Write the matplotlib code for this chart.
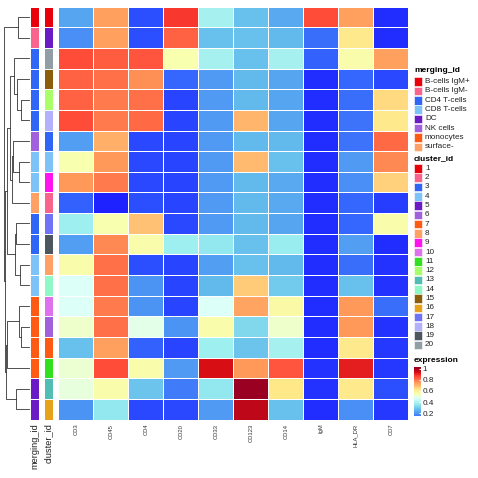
import numpy as np
import matplotlib
matplotlib.use("Agg")
import matplotlib.pyplot as plt
from matplotlib.colors import LinearSegmentedColormap, ListedColormap
from matplotlib.patches import Rectangle

plt.rcParams['font.family'] = ['Liberation Sans', 'DejaVu Sans']

# ---- data (rows top -> bottom) ----
markers = ["CD3", "CD45", "CD4", "CD20", "CD33", "CD123", "CD14", "IgM", "HLA_DR", "CD7"]

cd3    = [0.22, 0.18, 0.84, 0.81, 0.81, 0.84, 0.21, 0.54, 0.74, 0.11, 0.37, 0.21, 0.55, 0.46, 0.46, 0.51, 0.27, 0.50, 0.49, 0.19]
cd45   = [0.73, 0.73, 0.82, 0.79, 0.78, 0.78, 0.70, 0.74, 0.78, 0.00, 0.54, 0.76, 0.79, 0.79, 0.78, 0.79, 0.73, 0.84, 0.55, 0.35]
cd4    = [0.08, 0.08, 0.83, 0.75, 0.79, 0.80, 0.07, 0.07, 0.07, 0.08, 0.67, 0.55, 0.08, 0.19, 0.19, 0.48, 0.11, 0.55, 0.28, 0.07]
cd20   = [0.87, 0.81, 0.54, 0.12, 0.06, 0.06, 0.06, 0.06, 0.06, 0.06, 0.07, 0.37, 0.06, 0.06, 0.06, 0.19, 0.06, 0.20, 0.15, 0.07]
cd33   = [0.38, 0.27, 0.38, 0.20, 0.20, 0.20, 0.20, 0.20, 0.20, 0.20, 0.20, 0.35, 0.21, 0.26, 0.46, 0.55, 0.37, 0.92, 0.35, 0.20]
cd123  = [0.27, 0.27, 0.27, 0.26, 0.26, 0.69, 0.26, 0.68, 0.26, 0.26, 0.26, 0.27, 0.27, 0.66, 0.72, 0.32, 0.28, 0.74, 1.00, 0.95]
cd14   = [0.23, 0.26, 0.38, 0.22, 0.22, 0.22, 0.26, 0.27, 0.23, 0.23, 0.22, 0.36, 0.26, 0.29, 0.56, 0.51, 0.38, 0.83, 0.62, 0.27]
igm    = [0.84, 0.13, 0.11, 0.02, 0.02, 0.02, 0.02, 0.02, 0.02, 0.02, 0.02, 0.02, 0.02, 0.02, 0.02, 0.02, 0.02, 0.03, 0.03, 0.02]
hla_dr = [0.73, 0.61, 0.55, 0.12, 0.13, 0.14, 0.14, 0.20, 0.18, 0.12, 0.12, 0.21, 0.13, 0.27, 0.74, 0.74, 0.61, 0.90, 0.61, 0.18]
cd7    = [0.02, 0.02, 0.73, 0.07, 0.64, 0.61, 0.80, 0.76, 0.65, 0.05, 0.55, 0.02, 0.03, 0.03, 0.13, 0.03, 0.04, 0.04, 0.08, 0.04]

row_cluster = [1, 5, 20, 15, 12, 18, 3, 4, 9, 2, 17, 19, 8, 14, 10, 6, 7, 11, 13, 16]
row_merging = ["B-cells IgM+", "B-cells IgM-", "CD4 T-cells", "CD4 T-cells", "CD4 T-cells", "CD4 T-cells",
               "NK cells", "CD8 T-cells", "CD8 T-cells", "surface-", "CD4 T-cells", "CD4 T-cells",
               "CD8 T-cells", "CD8 T-cells", "monocytes", "monocytes", "monocytes", "monocytes", "DC", "DC"]

merging_levels = ["B-cells IgM+", "B-cells IgM-", "CD4 T-cells", "CD8 T-cells", "DC", "NK cells", "monocytes", "surface-"]
cluster_colors = ["#E8000B", "#F8648C", "#2F66F5", "#7EC3F8", "#6A1BC6", "#A160DC", "#FF5A14", "#FFA064",
                  "#FF14F0", "#DF70EE", "#33E01F", "#A8FF6A", "#52BDB4", "#8EF8C6", "#8B5E0B", "#E8A21A",
                  "#6E74F5", "#B3B0FC", "#4B565F", "#919EA6"]
merging_colors = cluster_colors[:8]

# dendrogram merges: (left, right, height); ids >= 20 are earlier merges
merges = [(0, 1, 11), (4, 5, 8), (3, 21, 12), (2, 22, 15), (7, 8, 10), (6, 24, 16),
          (25, 9, 17), (23, 26, 19), (10, 11, 13), (12, 13, 9), (28, 29, 14), (27, 30, 22),
          (15, 16, 8), (14, 32, 10), (33, 17, 22), (18, 19, 13), (34, 35, 23), (31, 36, 24),
          (20, 37, 25)]

expr_cmap = LinearSegmentedColormap.from_list("expr", [
    (0.00, "#1E22FF"), (0.10, "#2F5BFF"), (0.18, "#4A8FF5"), (0.26, "#62BBEC"),
    (0.36, "#98EDEE"), (0.46, "#DDFFF8"), (0.54, "#F8FFB0"), (0.62, "#FFE888"),
    (0.68, "#FFBB70"), (0.74, "#FF9A5A"), (0.80, "#FF6A45"), (0.86, "#FF4035"),
    (0.92, "#D80E14"), (1.00, "#9A0022")])

W = H = 478


def rect(x0, y0, x1, y1):
    return [x0 / W, 1 - y1 / H, (x1 - x0) / W, (y1 - y0) / H]


fig = plt.figure(figsize=(4.78, 4.78), dpi=100)
top, bot = 6.7, 419.5

# heatmap
mat = np.array([cd3, cd45, cd4, cd20, cd33, cd123, cd14, igm, hla_dr, cd7]).T
ax = fig.add_axes(rect(58.3, top, 408.3, bot))
ax.pcolormesh(mat, cmap=expr_cmap, vmin=0, vmax=1, edgecolors="white", linewidth=0.6)
ax.set_ylim(mat.shape[0], 0)
ax.set_xticks(np.arange(len(markers)) + 0.5)
ax.set_xticklabels(markers, rotation=90, fontsize=4.2, color="#333333")
ax.set_yticks([])
ax.tick_params(length=0, pad=3)
for s in ax.spines.values():
    s.set_visible(False)

# annotation columns
def annot(x0, x1, codes, colors, label):
    a = fig.add_axes(rect(x0, top, x1, bot))
    a.pcolormesh(np.array(codes).reshape(-1, 1), cmap=ListedColormap(colors),
                 vmin=-0.5, vmax=len(colors) - 0.5, edgecolors="white", linewidth=0.6)
    a.set_ylim(len(codes), 0)
    a.set_yticks([])
    a.set_xticks([0.5])
    a.set_xticklabels([label], rotation=90, fontsize=6.7, color="#222222")
    a.tick_params(length=0, pad=2.5)
    for s in a.spines.values():
        s.set_visible(False)

annot(30, 39, [merging_levels.index(m) for m in row_merging], merging_colors, "merging_id")
annot(44, 53, [c - 1 for c in row_cluster], cluster_colors, "cluster_id")

# dendrogram
ad = fig.add_axes(rect(2, top, 30, bot))
pos = {i: (i + 0.5, 0) for i in range(20)}
for k, (a, b, h) in enumerate(merges):
    ya, ha = pos[a]
    yb, hb = pos[b]
    ad.plot([ha, h, h, hb], [ya, ya, yb, yb], color="#333333", lw=0.6)
    pos[20 + k] = ((ya + yb) / 2, h)
ad.set_xlim(27, -1)
ad.set_ylim(20, 0)
ad.axis("off")

# legends
def px(x, y):
    return x / W, 1 - y / H

fs_title, fs_item = 6.0, 5.9
fig.text(*px(414, 70), "merging_id", fontsize=fs_title, fontweight="bold", va="center")
for i, (lab, col) in enumerate(zip(merging_levels, merging_colors)):
    yc = 81.7 + i * 9.3
    fig.patches.append(Rectangle(px(414, yc + 4.3), 8 / W, 8.6 / H, transform=fig.transFigure,
                                 facecolor=col, edgecolor="white", lw=0.4))
    fig.text(*px(425, yc), lab, fontsize=fs_item, va="center", color="#222222")

fig.text(*px(414, 159), "cluster_id", fontsize=fs_title, fontweight="bold", va="center")
for i, col in enumerate(cluster_colors):
    yc = 168.3 + i * 9.3
    fig.patches.append(Rectangle(px(414, yc + 4.3), 8 / W, 8.6 / H, transform=fig.transFigure,
                                 facecolor=col, edgecolor="white", lw=0.4))
    fig.text(*px(425, yc), str(i + 1), fontsize=fs_item, va="center", color="#222222")

fig.text(*px(414, 361), "expression", fontsize=fs_title, fontweight="bold", va="center")
ac = fig.add_axes(rect(414, 367, 420.5, 416))
vmin_bar, vmax_bar = 0.15, 1.03
grad = np.linspace(vmin_bar, vmax_bar, 200).reshape(-1, 1)
ac.imshow(grad, cmap=expr_cmap, vmin=0, vmax=1, aspect="auto", origin="lower",
          extent=[0, 1, vmin_bar, vmax_bar])
ac.set_xticks([])
ac.yaxis.tick_right()
ac.set_yticks([0.2, 0.4, 0.6, 0.8, 1.0])
ac.set_yticklabels(["0.2", "0.4", "0.6", "0.8", "1"], fontsize=fs_item, color="#222222")
ac.tick_params(axis="y", length=1.5, color="white", pad=1.5, direction="in")
for s in ac.spines.values():
    s.set_visible(False)

fig.savefig("out.png", dpi=100)
